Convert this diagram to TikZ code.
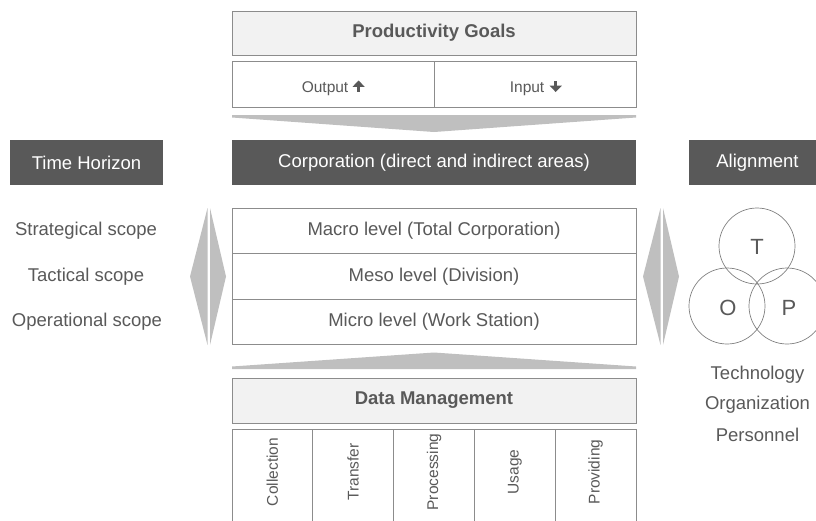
\documentclass[tikz,border=0pt]{standalone}
\usepackage{fontspec}
\setmainfont{Liberation Sans}
\definecolor{dk}{HTML}{595959}
\definecolor{lt}{HTML}{F2F2F2}
\definecolor{bd}{HTML}{8C8C8C}
\definecolor{chev}{HTML}{BFBFBF}
\definecolor{txt}{HTML}{595959}
\definecolor{circ}{HTML}{808080}
\begin{document}
\begin{tikzpicture}[x=1pt,y=-1pt,
  big/.style={font=\fontsize{18.5}{22}\selectfont,text=txt},
  small/.style={font=\fontsize{15.5}{18}\selectfont,text=txt},
  cell/.style={draw=bd,line width=0.9pt,fill=white,inner sep=0pt,big},
  lightbox/.style={draw=bd,line width=0.9pt,fill=lt,inner sep=0pt,big,font=\fontsize{18.5}{22}\selectfont\bfseries},
  header/.style={fill=dk,inner sep=0pt,font=\fontsize{18.5}{22}\selectfont,text=white},
  plain/.style={inner sep=0pt,big},
  chevshape/.style={fill=chev,draw=none},
  circle3/.style={draw=circ,line width=0.7pt,circle,inner sep=0pt,minimum size=76pt},
  venn/.style={inner sep=0pt,font=\fontsize{22}{26}\selectfont,text=txt},
  icon/.style={fill=txt,draw=none}
]
\useasboundingbox (0,0) rectangle (816,520);

% Productivity goals
\node[lightbox,minimum width=404pt,minimum height=44pt] (goals) at (434,33) {Productivity Goals};
\node[cell,minimum width=202pt,minimum height=46pt] (outcell) at (333,84) {};
\node[cell,minimum width=202pt,minimum height=46pt] (incell) at (535,84) {};
\node[inner sep=0pt,small,anchor=base east] (outtxt) at (348.5,92) {Output};
\node[inner sep=0pt,small,anchor=base east] (intxt) at (544.5,92) {Input};
% up arrow icon
\fill[icon] ([xshift=8.5pt,yshift=0pt]outtxt.base east) rectangle ([xshift=11.7pt,yshift=7pt]outtxt.base east);
\fill[icon] ([xshift=4pt,yshift=5.2pt]outtxt.base east) -- ([xshift=10.1pt,yshift=11.5pt]outtxt.base east) -- ([xshift=16.2pt,yshift=5.2pt]outtxt.base east) -- cycle;
% down arrow icon
\fill[icon] ([xshift=9.6pt,yshift=11.5pt]intxt.base east) rectangle ([xshift=12.8pt,yshift=4.5pt]intxt.base east);
\fill[icon] ([xshift=5.1pt,yshift=6.3pt]intxt.base east) -- ([xshift=11.2pt,yshift=0pt]intxt.base east) -- ([xshift=17.3pt,yshift=6.3pt]intxt.base east) -- cycle;

% down chevron
\fill[chevshape] (232,115) -- (636,115) -- (636,117.5) -- (434,132) -- (232,117.5) -- cycle;

% headers
\node[header,minimum width=153pt,minimum height=45pt] (time) at (86.5,162.5) {Time Horizon};
\node[header,minimum width=404pt,minimum height=45pt] (corp) at (434,162.5) {Corporation (direct and indirect areas)};
\node[header,minimum width=137pt,minimum height=45pt] (align) at (757.5,162.5) {Alignment};

% levels
\node[cell,minimum width=404pt,minimum height=45.5pt] (macro) at (434,230.75) {Macro level (Total Corporation)};
\node[cell,minimum width=404pt,minimum height=45.5pt] (meso) at (434,276.25) {Meso level (Division)};
\node[cell,minimum width=404pt,minimum height=45.5pt] (micro) at (434,321.75) {Micro level (Work Station)};

% time horizon labels
\node[plain] (strat) at (86,231) {Strategical scope};
\node[plain] (tact) at (86,276.5) {Tactical scope};
\node[plain] (oper) at (87,322) {Operational scope};

% left double arrow
\fill[chevshape] (207.5,208) -- (190,276.5) -- (207.5,345) -- cycle;
\fill[chevshape] (210,208) -- (226,276.5) -- (210,345) -- cycle;
% right double arrow
\fill[chevshape] (660.5,208) -- (643,276.5) -- (660.5,345) -- cycle;
\fill[chevshape] (663,208) -- (679,276.5) -- (663,345) -- cycle;

% Venn
\node[circle3] (ct) at (757,246) {};
\node[circle3] (co) at (727,306) {};
\node[circle3] (cp) at (787,306) {};
\node[venn] (lt) at (757,247) {T};
\node[venn] (lo) at (728,308) {O};
\node[venn] (lp) at (789,308) {P};
\node[plain] (tech) at (757.5,375) {Technology};
\node[plain] (org) at (757.5,405) {Organization};
\node[plain] (pers) at (757.5,435) {Personnel};

% up chevron
\fill[chevshape] (232,369) -- (636,369) -- (636,366.5) -- (434,352.5) -- (232,366.5) -- cycle;

% data management
\node[lightbox,minimum width=404pt,minimum height=45pt] (dm) at (434,400.5) {Data Management};
\foreach \i/\t in {0/Collection,1/Transfer,2/Processing,3/Usage,4/Providing}{
  \pgfmathsetmacro{\xa}{232+80.8*\i}
  \pgfmathsetmacro{\xb}{232+80.8*(\i+1)}
  \pgfmathsetmacro{\xc}{232+80.8*(\i+0.5)}
  \draw[draw=bd,line width=0.9pt] (\xa,525) -- (\xa,429) -- (\xb,429) -- (\xb,525);
  \node[inner sep=0pt,small,rotate=90] (dm\i) at (\xc,472) {\t};
}
\end{tikzpicture}
\end{document}
